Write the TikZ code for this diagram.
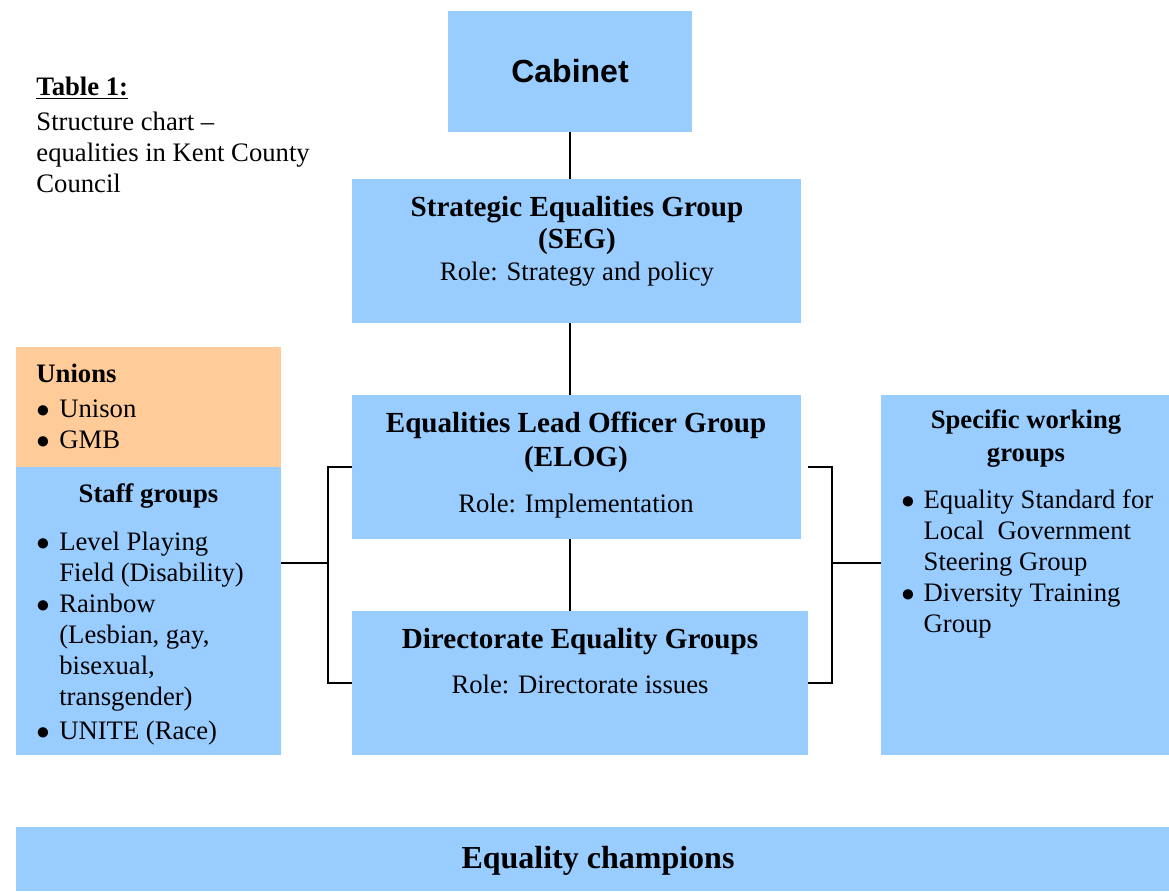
\documentclass[tikz,border=0pt]{standalone}
\usepackage{fontspec}
\setmainfont{Liberation Serif}
\newfontfamily\arialfont{Liberation Sans}
\definecolor{chartblue}{RGB}{153,204,255}
\definecolor{chartorange}{RGB}{255,204,153}
\newcommand{\headfont}{\fontsize{13.1}{15}\selectfont\bfseries}
\newcommand{\dotitem}{$\bullet$}
\tikzset{
    box/.style={fill=chartblue, inner sep=0pt, outer sep=0pt, anchor=north west},
    boxsize/.style 2 args={minimum width=#1*0.45pt, minimum height=#2*0.45pt},
    link/.style={black, line width=1pt},
    txt/.style={inner sep=0pt, anchor=base}
}

\begin{document}
\begin{tikzpicture}[x=0.45pt, y=-0.45pt, font=\fontsize{12}{14}\selectfont]
        \useasboundingbox (0,0) rectangle (1169,891);

        % 1. boxes
        \node[box, boxsize={244}{121}] (cabinet) at (448,11) {};
        \node[box, boxsize={449}{144}] (seg) at (352,179) {};
        \node[box, boxsize={449}{144}] (elog) at (352,395) {};
        \node[box, boxsize={456}{144}] (deg) at (352,611) {};
        \node[box, boxsize={265}{120}, fill=chartorange] (unions) at (16,347) {};
        \node[box, boxsize={265}{288}] (staff) at (16,467) {};
        \node[box, boxsize={288}{360}] (spec) at (881,395) {};
        \node[box, boxsize={1153}{64}] (champ) at (16,827) {};

        % 2. connectors
        \draw[link] (cabinet.south) -- (cabinet.south |- seg.north);
        \draw[link] (seg.south -| cabinet.south) -- (elog.north -| cabinet.south);
        \draw[link] (elog.south -| cabinet.south) -- (deg.north -| cabinet.south);
        \coordinate (ljoin) at (328,563);
        \coordinate (rjoin) at (832,563);
        \draw[link] (elog.west) -| (ljoin) |- (deg.west);
        \draw[link] (staff.east |- ljoin) -- (ljoin);
        \draw[link] (deg.east |- elog.east) -| (rjoin) |- (deg.east);
        \draw[link] (rjoin) -- (spec.west |- rjoin);

        % 3. title
        \node[txt, anchor=base west] (title) at (36,95) {\begin{tabular}[t]{@{}l@{}}
            \textbf{\underline{Table 1:}}\\[1.75pt]
            Structure chart –\\
            equalities in Kent County\\
            Council
        \end{tabular}};

        % 4. central column
        \node[txt, font=\arialfont\fontsize{14.4}{17}\selectfont\bfseries] (cabinettext) at (570,82) {Cabinet};
        \node[txt] (segtext) at (577,216) {\begin{tabular}[t]{@{}c@{}}
            \headfont Strategic Equalities Group\\[0.8pt]
            \headfont (SEG)\\[0.4pt]
            Role: Strategy and policy
        \end{tabular}};
        \node[txt] (elogtext) at (576,432) {\begin{tabular}[t]{@{}c@{}}
            \headfont Equalities Lead Officer Group\\[1.3pt]
            \headfont (ELOG)\\[6.7pt]
            Role: Implementation
        \end{tabular}};
        \node[txt] (degtext) at (580,648) {\begin{tabular}[t]{@{}c@{}}
            \headfont Directorate Equality Groups\\[6.25pt]
            Role: Directorate issues
        \end{tabular}};

        % 5. unions and staff groups
        \node[txt, anchor=base west] (unionstext) at (36,382) {\begin{tabular}[t]{@{}l@{\hspace{4.3pt}}l@{}}
            \multicolumn{2}{@{}l@{}}{\textbf{Unions}}\\[1.75pt]
            \dotitem & Unison\\
            \dotitem & GMB
        \end{tabular}};
        \node[txt, font=\fontsize{12}{14}\selectfont\bfseries] (stafftext) at (148.5,502) {Staff groups};
        \node[txt, anchor=base west] (stafflist) at (36,550) {\begin{tabular}[t]{@{}l@{\hspace{4.3pt}}l@{}}
            \dotitem & Level Playing\\
                     & Field (Disability)\\
            \dotitem & Rainbow\\
                     & (Lesbian, gay,\\
                     & bisexual,\\
                     & transgender)\\[1.3pt]
            \dotitem & UNITE (Race)
        \end{tabular}};

        % 6. specific working groups
        \node[txt] (spectext) at (1026,428) {\begin{tabular}[t]{@{}c@{}}
            \textbf{Specific working}\\[0.85pt]
            \textbf{groups}
        \end{tabular}};
        \node[txt, anchor=base west] (speclist) at (901,508) {\begin{tabular}[t]{@{}l@{\hspace{4pt}}l@{}}
            \dotitem & Equality Standard for\\
                     & Local\ \ Government\\
                     & Steering Group\\
            \dotitem & Diversity Training\\
                     & Group
        \end{tabular}};

        % 7. equality champions
        \node[txt, font=\fontsize{14.4}{17}\selectfont\bfseries] (champtext) at (598,868) {Equality champions};
    \end{tikzpicture}
\end{document}
